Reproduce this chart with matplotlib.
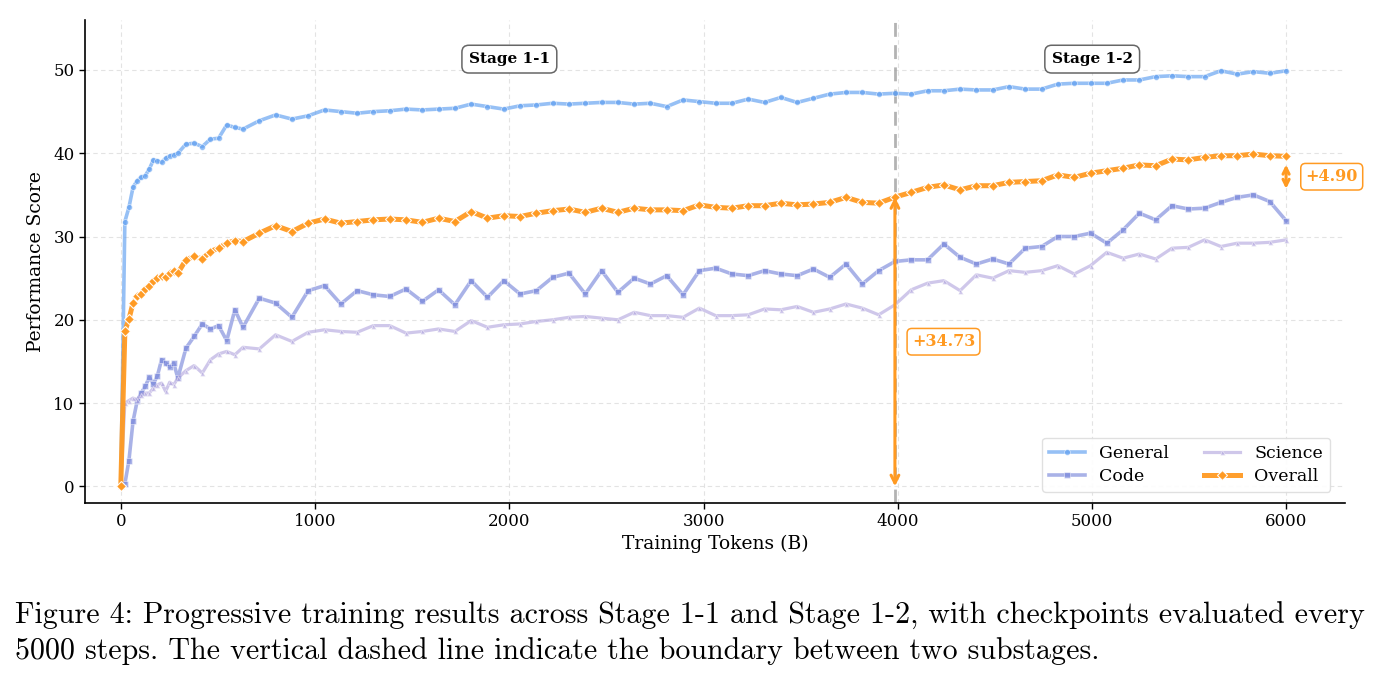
import matplotlib
matplotlib.use("Agg")
import matplotlib.pyplot as plt
import numpy as np

# checkpoint indices (each checkpoint = 5000 steps)
ckpt_idx = list(range(0, 15)) + list(range(16, 31, 2)) + list(range(34, 287, 4))
tokens_per_ckpt_B = 5000 * 4194304 / 1e9
tokens = [k * tokens_per_ckpt_B for k in ckpt_idx]
boundary_idx = 190
boundary_x = boundary_idx * tokens_per_ckpt_B

general = [0.0,
    31.8, 33.5, 35.9, 36.7, 37.1, 37.3, 38.1, 39.2, 39.1, 38.9, 39.4, 39.7, 39.8, 40.0,
    41.1, 41.2, 40.8, 41.7, 41.8, 43.4, 43.1, 42.9,
    43.9, 44.6, 44.1, 44.5, 45.2, 45.0, 44.8, 45.0, 45.1, 45.3,
    45.2, 45.3, 45.4, 45.9, 45.6, 45.3, 45.7, 45.8, 46.0, 45.9,
    46.0, 46.1, 46.1, 45.9, 46.0, 45.6, 46.4, 46.2, 46.0, 46.0,
    46.5, 46.1, 46.7, 46.1, 46.6, 47.1, 47.3, 47.3, 47.1, 47.2,
    47.1, 47.5, 47.5, 47.7, 47.6, 47.6, 48.0, 47.7, 47.7, 48.3,
    48.4, 48.4, 48.4, 48.8, 48.8, 49.2, 49.3, 49.2, 49.2, 49.9,
    49.5, 49.8, 49.6, 49.9]

code = [0.0,
    0.3, 3.1, 7.8, 10.2, 11.2, 12.0, 13.1, 12.3, 13.3, 15.2, 14.8, 14.3, 14.8, 13.0,
    16.6, 18.0, 19.5, 18.9, 19.3, 17.5, 21.2, 19.1,
    22.6, 22.0, 20.3, 23.5, 24.1, 21.9, 23.5, 23.0, 22.8, 23.7,
    22.2, 23.6, 21.8, 24.7, 22.7, 24.7, 23.1, 23.5, 25.1, 25.6,
    23.1, 25.9, 23.3, 25.0, 24.3, 25.3, 23.0, 25.9, 26.2, 25.5,
    25.3, 25.9, 25.5, 25.3, 26.1, 25.1, 26.7, 24.3, 25.9, 27.0,
    27.2, 27.2, 29.1, 27.5, 26.7, 27.3, 26.7, 28.6, 28.8, 30.0,
    30.0, 30.4, 29.2, 30.8, 32.8, 32.0, 33.7, 33.3, 33.4, 34.1,
    34.7, 35.0, 34.2, 31.9]

science = [0.0,
    10.0, 10.3, 10.6, 10.4, 11.0, 11.2, 11.2, 11.8, 12.2, 12.4, 11.4, 12.5, 12.2, 13.0,
    13.9, 14.5, 13.6, 15.2, 15.9, 16.2, 15.8, 16.7,
    16.5, 18.2, 17.4, 18.5, 18.8, 18.6, 18.5, 19.3, 19.3, 18.4,
    18.6, 18.9, 18.6, 19.9, 19.1, 19.4, 19.5, 19.8, 20.0, 20.3,
    20.4, 20.2, 20.0, 20.9, 20.5, 20.5, 20.3, 21.4, 20.5, 20.5,
    20.6, 21.3, 21.2, 21.6, 20.9, 21.3, 21.9, 21.4, 20.6, 21.8,
    23.6, 24.4, 24.7, 23.5, 25.4, 25.0, 25.9, 25.7, 25.9, 26.5,
    25.5, 26.5, 28.1, 27.4, 27.9, 27.3, 28.6, 28.7, 29.6, 28.8,
    29.2, 29.2, 29.3, 29.6]

overall = [0.0,
    18.6, 20.1, 22.0, 22.8, 23.1, 23.7, 24.1, 24.6, 25.0, 25.3, 25.1, 25.6, 25.8, 25.6,
    27.2, 27.6, 27.3, 28.2, 28.6, 29.2, 29.5, 29.4,
    30.4, 31.3, 30.6, 31.6, 32.1, 31.6, 31.8, 32.0, 32.1, 32.0,
    31.7, 32.2, 31.8, 33.0, 32.2, 32.5, 32.4, 32.8, 33.1, 33.3,
    32.9, 33.4, 32.9, 33.4, 33.2, 33.2, 33.1, 33.8, 33.5, 33.4,
    33.7, 33.7, 34.0, 33.8, 33.9, 34.1, 34.7, 34.1, 34.0, 34.73,
    35.3, 35.9, 36.2, 35.6, 36.1, 36.1, 36.5, 36.6, 36.7, 37.4,
    37.1, 37.6, 37.9, 38.2, 38.6, 38.5, 39.3, 39.2, 39.5, 39.7,
    39.7, 39.9, 39.7, 39.63]

gain_stage1 = "+34.73"
gain_stage2 = "+4.90"
stage_labels = ["Stage 1-1", "Stage 1-2"]
stage_label_x = [2000, 5000]

caption_lines = [
    "Figure 4: Progressive training results across Stage 1-1 and Stage 1-2, with checkpoints evaluated every",
    "5000 steps. The vertical dashed line indicate the boundary between two substages.",
]

plt.rcParams['font.family'] = ['DejaVu Serif']

fig = plt.figure(figsize=(13.85, 6.8), dpi=100)
ax = fig.add_axes([0.0614, 0.2603, 0.9097, 0.7103])

ORANGE = '#FF9A22'
ax.plot(tokens, general, color='#5E9EF0', alpha=0.65, lw=2.6, marker='o', ms=4.2,
        mec='white', mew=0.5, label='General', zorder=3)
ax.plot(tokens, code, color='#7180D8', alpha=0.6, lw=2.6, marker='s', ms=4.0,
        mec='white', mew=0.5, label='Code', zorder=3)
ax.plot(tokens, science, color='#AFA3DD', alpha=0.6, lw=2.3, marker='^', ms=3.6,
        mec='white', mew=0.5, label='Science', zorder=3)
ax.plot(tokens, overall, color=ORANGE, alpha=0.95, lw=3.6, marker='D', ms=4.6,
        mec='white', mew=0.8, label='Overall', zorder=4)

ax.axvline(boundary_x, color='#A0A0A0', ls=(0, (5, 3)), lw=2.0, alpha=0.8, zorder=2)

ax.set_xlim(-184, 6301)
ax.set_ylim(-2, 56)
ax.set_xticks([0, 1000, 2000, 3000, 4000, 5000, 6000])
ax.set_yticks([0, 10, 20, 30, 40, 50])
ax.tick_params(labelsize=12, length=4, width=1)
ax.set_xlabel('Training Tokens (B)', fontsize=13.5, labelpad=3)
ax.set_ylabel('Performance Score', fontsize=13.5, labelpad=6)
ax.grid(True, ls=(0, (4, 3)), color='#DDDDDD', lw=0.8, alpha=0.8, zorder=0)
ax.spines['top'].set_visible(False)
ax.spines['right'].set_visible(False)
for s in ('left', 'bottom'):
    ax.spines[s].set_linewidth(1.2)

# stage labels
for lab, xs in zip(stage_labels, stage_label_x):
    ax.text(xs, 51.3, lab, ha='center', va='center', fontsize=11, fontweight='bold',
            bbox=dict(boxstyle='round,pad=0.45', fc='white', ec='#666666', lw=1.1))

# gain arrows
i_b = ckpt_idx.index(boundary_idx)
ov_b = overall[i_b]
ov_end = overall[-1]
ax.annotate('', xy=(boundary_x, ov_b), xytext=(boundary_x, 0),
            arrowprops=dict(arrowstyle='<->', color=ORANGE, lw=2.2, mutation_scale=14,
                            shrinkA=0, shrinkB=0),
            zorder=5)
ax.text(boundary_x + 250, ov_b / 2, gain_stage1, ha='center', va='center', color=ORANGE,
        fontsize=11.5, fontweight='bold',
        bbox=dict(boxstyle='round,pad=0.3', fc='white', ec=ORANGE, lw=1.1))
ax.annotate('', xy=(tokens[-1], ov_end - 1), xytext=(tokens[-1], ov_b + 1),
            arrowprops=dict(arrowstyle='<->', color=ORANGE, lw=2.2, mutation_scale=11,
                            shrinkA=0, shrinkB=0),
            zorder=5, annotation_clip=False)
ax.text(tokens[-1] + 235, (ov_end + ov_b) / 2, gain_stage2, ha='center', va='center',
        color=ORANGE, fontsize=11.5, fontweight='bold', clip_on=False,
        bbox=dict(boxstyle='round,pad=0.3', fc='white', ec=ORANGE, lw=1.1))

leg = ax.legend(loc='lower right', ncol=2, fontsize=12.5, frameon=True, framealpha=0.9,
                edgecolor='#DDDDDD', columnspacing=2.0, handlelength=2.1,
                borderpad=0.4, labelspacing=0.35, bbox_to_anchor=(0.995, 0.005))

# caption
cap_font = ['cmr10', 'DejaVu Serif']
fig.text(15 / 1385, 1 - 624 / 680, caption_lines[0], fontsize=21.6,
         family=cap_font, va='baseline', ha='left')
fig.text(15 / 1385, 1 - 659 / 680, caption_lines[1], fontsize=21.6,
         family=cap_font, va='baseline', ha='left')

fig.savefig('out.png', dpi=100)
